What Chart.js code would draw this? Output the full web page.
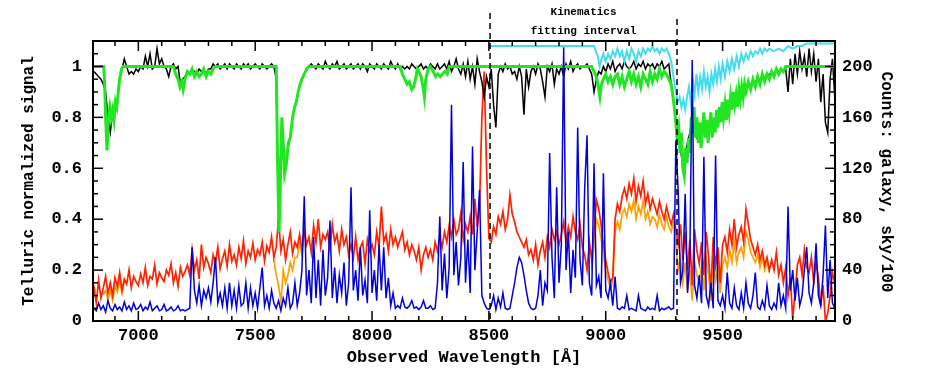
<!DOCTYPE html>
<html>
<head>
<meta charset="utf-8">
<script src="https://cdn.jsdelivr.net/npm/chart.js@4.4.0/dist/chart.umd.min.js"></script>
<style>
  html, body { margin: 0; padding: 0; background: #fff; }
  canvas { display: block; }
</style>
</head>
<body>
<canvas id="spec" width="926" height="378"></canvas>
<script>
// spectra sampled every 10 A from 6810 A
const WL_START = 6810;
const WL_STEP = 10;
const WL_MIN = 6806, WL_MAX = 9981;

// galaxy counts (telluric corrected)
const galaxy = [
  28, 14, 32, 18, 26, 35, 22, 30, 20, 34,
  27, 38, 24, 33, 29, 40, 26, 35, 31, 28,
  37, 30, 42, 28, 35, 33, 44, 29, 38, 34,
  31, 40, 36, 45, 30, 38, 27, 42, 35, 39,
  44, 36, 56, 40, 48, 33, 60, 42, 50, 45,
  38, 52, 46, 58, 41, 49, 55, 43, 60, 47,
  52, 44, 58, 49, 63, 45, 55, 50, 61, 48,
  56, 52, 62, 47, 59, 54, 66, 50, 58, 80,
  55, 64, 48, 60, 70, 53, 62, 58, 68, 56,
  72, 60, 66, 54, 75, 62, 80, 58, 68, 64,
  70, 57, 76, 62, 68, 55, 72, 60, 66, 52,
  60, 50, 66, 48, 58, 62, 45, 64, 55, 60,
  52, 70, 58, 90, 62, 68, 55, 72, 60, 66,
  58, 64, 70, 56, 62, 52, 60, 55, 48, 58,
  40, 52, 58, 50, 56, 48, 62, 55, 66, 58,
  70, 62, 75, 66, 80, 68, 72, 85, 64, 76,
  70, 82, 68, 96, 74, 90, 160, 196, 120, 65,
  62, 74, 68, 82, 76, 86, 72, 80, 99, 84,
  78, 70, 66, 62, 58, 64, 52, 56, 48, 60,
  44, 55, 62, 50, 66, 58, 72, 64, 70, 60,
  68, 78, 62, 74, 66, 82, 70, 64, 76, 58,
  52, 40, 62, 48, 70, 95, 88, 76, 60, 48,
  38, 30, 34, 80, 92, 86, 98, 104, 96, 108,
  100, 112, 94, 106, 98, 110, 92, 100, 88, 96,
  90, 84, 94, 86, 80, 90, 82, 76, 84, 72,
  60, 76, 48, 70, 40, 64, 28, 72, 55, 45,
  62, 36, 70, 50, 24, 66, 44, 58, 30, 60,
  66, 54, 72, 60, 80, 58, 68, 74, 62, 88,
  76, 64, 58, 52, 60, 48, 55, 44, 50, 40,
  48, 40, 54, 36, 44, 30, 42, 20, 34, 2,
  22, 44, 50, 36, 56, 42, 38, 50, 30, 46,
  34, 12, 28, 0, 6, 20, 38, 30
];

// sky counts / 100
const sky = [
  10, 8, 14, 9, 12, 7, 16, 10, 8, 13,
  9, 11, 8, 15, 9, 12, 8, 14, 9, 10,
  13, 8, 11, 9, 15, 8, 10, 12, 8, 9,
  13, 8, 9, 11, 8, 9, 12, 8, 9, 8,
  9, 10, 58, 24, 14, 28, 12, 24, 18, 26,
  15, 30, 50, 14, 22, 12, 26, 10, 30, 12,
  24, 10, 28, 12, 14, 30, 10, 26, 12, 22,
  10, 26, 42, 12, 20, 10, 24, 14, 10, 16,
  8, 18, 12, 26, 10, 14, 30, 12, 22, 40,
  98, 20, 40, 14, 66, 18, 48, 12, 56, 20,
  34, 79, 18, 42, 14, 36, 22, 46, 12, 30,
  105, 24, 40, 16, 58, 20, 32, 14, 87, 22,
  40, 16, 60, 24, 58, 18, 34, 12, 22, 10,
  12, 10, 18, 11, 10, 12, 16, 10, 11, 9,
  11, 16, 10, 10, 12, 9, 10, 30, 82, 24,
  53, 18, 42, 170, 36, 62, 28, 50, 125, 30,
  64, 22, 137, 40, 70, 103, 20, 14, 10, 9,
  12, 20, 9, 18, 11, 22, 10, 9, 10, 20,
  30, 42, 50, 46, 36, 24, 14, 10, 9, 10,
  20, 40, 12, 30, 24, 132, 50, 18, 105, 30,
  60, 215, 40, 70, 22, 56, 34, 152, 48, 28,
  105, 146, 30, 20, 124, 28, 35, 18, 116, 24,
  18, 30, 12, 35, 10, 9, 11, 10, 20, 9,
  10, 9, 8, 20, 10, 9, 8, 11, 9, 10,
  9, 20, 8, 10, 9, 10, 11, 9, 10, 142,
  102, 30, 40, 100, 22, 50, 205, 28, 18, 36,
  14, 129, 20, 12, 30, 10, 130, 16, 12, 20,
  10, 38, 14, 10, 26, 12, 9, 22, 10, 30,
  14, 10, 20, 38, 11, 9, 16, 10, 28, 12,
  9, 14, 10, 30, 12, 20, 10, 90, 24, 40,
  16, 34, 12, 20, 40, 58, 22, 14, 30, 61,
  20, 12, 36, 75, 18, 48, 14, 10
];

// telluric normalized signal (black)
const telluric = [
  0.98, 0.97, 0.96, 0.95, 0.93, 0.9, 0.8, 0.74, 0.82, 0.82,
  0.85, 0.95, 0.99, 1.03, 1.0, 0.97, 0.98, 0.97, 0.99, 0.98,
  1.0, 0.99, 1.04, 1.0, 1.05, 0.99, 1.0, 1.07, 1.01, 1.03,
  1.0, 0.99, 0.96, 1.0, 1.01, 0.99, 1.0, 0.93, 0.95, 0.96,
  0.98, 0.97, 0.99, 0.98, 0.97, 0.99, 0.98, 0.99, 0.97, 0.99,
  0.99, 1.01, 1.0, 1.01, 0.99, 1.0, 1.01, 0.99, 1.01, 1.0,
  0.99, 1.01, 1.0, 0.99, 1.01, 1.0, 1.01, 0.99, 1.0, 1.01,
  1.0, 0.99, 1.01, 1.0, 0.99, 1.0, 1.01, 1.0, 0.95, 0.38,
  0.7, 0.68, 0.6, 0.68, 0.72, 0.8, 0.84, 0.88, 0.92, 0.95,
  0.97, 0.99, 1.0, 1.01, 1.0, 0.99, 1.01, 1.0, 0.99, 1.02,
  1.0, 0.99, 1.01, 1.0, 1.02, 0.99, 1.0, 1.01, 0.99, 1.0,
  1.01, 0.99, 1.0, 1.01, 0.99, 1.01, 1.0, 0.98, 1.01, 1.0,
  0.99, 1.01, 1.0, 0.99, 1.01, 1.0, 0.99, 1.02, 1.0, 0.99,
  1.01, 0.99, 1.0, 0.99, 1.0, 0.99, 1.01, 1.0, 0.99, 1.0,
  1.01, 0.99, 1.0, 0.99, 1.01, 1.0, 0.99, 1.01, 0.99, 1.0,
  1.01, 0.99, 1.02, 0.98, 1.0, 1.03, 0.99, 0.97, 1.01, 0.96,
  1.02, 0.95, 1.0, 0.93, 1.03, 0.98, 0.94, 0.88, 0.96, 0.92,
  0.99, 0.85, 0.76, 0.97, 1.0, 0.98, 1.01, 0.99, 1.0, 0.97,
  0.98, 0.95, 1.0, 0.96, 0.81, 0.99, 0.92, 0.98, 1.0, 0.97,
  1.01, 0.99, 0.94, 0.88, 1.0, 0.98, 1.01, 0.93, 0.99, 0.97,
  1.0, 0.96, 1.01, 0.99, 1.02, 0.98, 1.0, 1.01, 0.99, 1.0,
  1.0, 1.01, 0.99, 0.97, 0.9, 0.95, 0.98, 0.97, 1.0, 0.98,
  1.01, 0.99, 1.02, 0.98, 1.0, 1.01, 0.99, 1.02, 1.0, 0.99,
  1.0, 1.02, 0.99, 1.01, 1.0, 1.02, 0.99, 1.01, 1.0, 1.01,
  0.99, 1.01, 1.0, 1.02, 0.99, 1.0, 1.01, 0.93, 0.87, 0.78,
  0.74, 0.68, 0.6, 0.66, 0.7, 0.74, 0.78, 0.74, 0.72, 0.76,
  0.72, 0.76, 0.74, 0.76, 0.78, 0.76, 0.78, 0.8, 0.8, 0.84,
  0.82, 0.84, 0.86, 0.86, 0.88, 0.88, 0.9, 0.9, 0.92, 0.92,
  0.93, 0.93, 0.94, 0.94, 0.95, 0.95, 0.96, 0.96, 0.96, 0.97,
  0.97, 0.97, 0.98, 0.98, 0.99, 0.98, 0.99, 0.9, 1.03, 0.93,
  1.05, 0.97, 1.06, 0.99, 1.04, 0.96, 1.07, 0.98, 1.05, 0.94,
  1.03, 0.86, 0.97, 0.78, 0.74, 0.95, 1.03, 0.88
];

// telluric model (green), [wavelength, value]
const tellModel = [
  [6806, 1.0], [6852, 1.0], [6856, 0.93], [6860, 0.8], [6866, 0.67], [6872, 0.8], [6878, 0.84],
  [6884, 0.8], [6890, 0.83], [6896, 0.79], [6902, 0.86], [6908, 0.84], [6914, 0.9], [6920, 0.95],
  [6928, 0.99], [6935, 1.0],
  [7150, 1.0], [7160, 0.97], [7170, 0.95], [7178, 0.92], [7186, 0.94], [7192, 0.91], [7200, 0.95],
  [7210, 0.98], [7220, 0.97], [7230, 0.99], [7240, 0.96], [7250, 0.98], [7260, 0.96], [7270, 0.97],
  [7280, 0.99], [7290, 0.96], [7300, 0.98], [7310, 0.97], [7320, 0.99], [7330, 1.0],
  [7590, 1.0], [7596, 0.62], [7602, 0.35], [7608, 0.55], [7614, 0.8], [7620, 0.7], [7626, 0.58],
  [7634, 0.62], [7642, 0.7], [7650, 0.72], [7660, 0.8], [7668, 0.84], [7676, 0.86], [7684, 0.9],
  [7692, 0.93], [7700, 0.95], [7710, 0.97], [7720, 0.99], [7730, 1.0],
  [8120, 1.0], [8130, 0.97], [8140, 0.95], [8150, 0.93], [8160, 0.94], [8170, 0.91], [8178, 0.92],
  [8186, 0.95], [8194, 0.99], [8200, 0.98], [8210, 0.96], [8218, 0.92], [8224, 0.88], [8230, 0.95],
  [8240, 0.99], [8250, 1.0], [8262, 0.98], [8272, 0.96], [8282, 0.97], [8292, 0.96], [8302, 0.97],
  [8312, 0.98], [8322, 0.97], [8330, 1.0],
  [8940, 1.0], [8950, 0.98], [8960, 0.96], [8968, 0.92], [8975, 0.88], [8982, 0.93], [8990, 0.95],
  [9000, 0.97], [9010, 0.94], [9020, 0.96], [9030, 0.93], [9040, 0.96],
  [9050, 0.97], [9060, 0.93], [9070, 0.96], [9080, 0.92], [9090, 0.95], [9100, 0.98], [9110, 0.94],
  [9120, 0.97], [9130, 0.93], [9140, 0.96], [9150, 0.92], [9160, 0.97], [9170, 0.95], [9180, 0.93],
  [9190, 0.98], [9200, 0.94], [9210, 0.97], [9220, 0.95], [9230, 0.99], [9240, 0.96], [9250, 0.98],
  [9260, 0.97], [9270, 0.95], [9280, 0.93],
  [9285, 0.9], [9292, 0.85], [9298, 0.8], [9305, 0.72], [9312, 0.76], [9318, 0.66], [9324, 0.74],
  [9330, 0.6], [9336, 0.57], [9342, 0.68], [9348, 0.62], [9354, 0.72], [9360, 0.66], [9366, 0.8],
  [9372, 0.74], [9378, 0.84], [9384, 0.72], [9390, 0.8], [9396, 0.7], [9402, 0.78], [9408, 0.68],
  [9414, 0.76], [9420, 0.82], [9426, 0.72], [9432, 0.79], [9438, 0.7], [9444, 0.77], [9450, 0.82],
  [9456, 0.72], [9462, 0.8], [9468, 0.74], [9474, 0.83], [9480, 0.76], [9486, 0.84], [9492, 0.78],
  [9498, 0.86], [9504, 0.8], [9510, 0.85], [9516, 0.79], [9522, 0.87], [9528, 0.82], [9534, 0.88],
  [9540, 0.83], [9546, 0.9], [9552, 0.85], [9558, 0.89], [9564, 0.84], [9570, 0.91], [9576, 0.87],
  [9582, 0.92], [9588, 0.88], [9594, 0.93], [9600, 0.9], [9610, 0.94], [9620, 0.91], [9630, 0.95],
  [9640, 0.92], [9650, 0.96], [9660, 0.93], [9670, 0.97], [9680, 0.94], [9690, 0.97], [9700, 0.95],
  [9710, 0.98], [9720, 0.96], [9730, 0.99], [9740, 0.97], [9750, 0.99], [9760, 0.98], [9770, 1.0],
  [9981, 1.0]
];

// corrected telluric signal inside the fit interval (cyan)
const tellFit = [
  [8505, 1.08], [8950, 1.08], [8958, 1.06], [8966, 1.04], [8974, 1.0], [8982, 1.03], [8990, 1.05],
  [9000, 1.02], [9010, 1.05], [9020, 1.03], [9030, 1.06], [9040, 1.04], [9050, 1.07], [9060, 1.04],
  [9070, 1.06], [9080, 1.02], [9090, 1.06], [9100, 1.03], [9110, 1.07], [9120, 1.05], [9130, 1.02],
  [9140, 1.06], [9150, 1.04], [9160, 1.07], [9170, 1.05], [9180, 1.07], [9190, 1.06], [9200, 1.08],
  [9210, 1.06], [9220, 1.07], [9230, 1.05], [9240, 1.07], [9250, 1.06], [9260, 1.07], [9270, 1.05],
  [9280, 1.02], [9290, 0.96], [9300, 0.9], [9308, 0.86], [9316, 0.88], [9324, 0.84], [9332, 0.87],
  [9340, 0.83], [9348, 0.88], [9356, 0.92], [9364, 0.86], [9372, 0.95], [9380, 0.89], [9388, 0.97],
  [9396, 0.9], [9404, 0.96], [9412, 0.91], [9420, 0.98], [9428, 0.92], [9436, 0.96], [9444, 0.9],
  [9452, 0.97], [9460, 0.93], [9468, 0.99], [9476, 0.94], [9484, 1.0], [9492, 0.95], [9500, 1.01],
  [9510, 0.96], [9520, 1.02], [9530, 0.98], [9540, 1.03], [9550, 0.99], [9560, 1.04], [9570, 1.0],
  [9580, 1.05], [9590, 1.02], [9600, 1.05], [9610, 1.03], [9620, 1.06], [9630, 1.04], [9640, 1.06],
  [9650, 1.05], [9660, 1.07], [9670, 1.05], [9680, 1.07], [9690, 1.06], [9700, 1.07], [9720, 1.06],
  [9740, 1.07], [9760, 1.06], [9780, 1.08], [9800, 1.07], [9820, 1.08], [9840, 1.08], [9860, 1.09],
  [9981, 1.09]
];

// uncorrected galaxy counts, only where it shows below the red (orange)
const rawA = [21, 24, 17, 24, 16, 27, 23, 32, 22, 32];            // from 6850
const rawB = [48, 36, 28, 15, 40, 30, 36, 46, 40, 50, 50, 62, 52, 70, 60]; // from 7580
const rawC = [                                                       // from 8940
  40, 60, 80, 75, 65, 52, 40,
  32, 26, 30, 70, 78, 72, 84, 88, 82, 92,
  86, 95, 80, 90, 84, 94, 80, 86, 76, 82,
  80, 74, 84, 76, 72, 82, 74, 70, 78, 60,
  40, 50, 30, 46, 24, 40, 16, 46, 36, 30,
  44, 24, 50, 36, 16, 48, 32, 42, 22, 44,
  50, 42, 56, 46, 62, 46, 54, 58, 50, 70,
  64, 54, 50, 46, 52, 42, 50, 40, 46, 38
];

const xTicks = [7000, 7500, 8000, 8500, 9000, 9500];
const yTicks = [0, 0.2, 0.4, 0.6, 0.8, 1];
const yTickLabels = ['0', '0.2', '0.4', '0.6', '0.8', '1'];
const y2Ticks = [0, 40, 80, 120, 160, 200];
const fitInterval = [8505, 9305];

const grid = (arr, start) => arr.map((v, i) => ({ x: start + i * WL_STEP, y: v }));
const pairs = arr => arr.map(p => ({ x: p[0], y: p[1] }));
const rawData = [...grid(rawA, 6850), { x: 6945, y: null },
                 ...grid(rawB, 7580), { x: 7725, y: null },
                 ...grid(rawC, 8940)];

const line = (data, color, width, axis) => ({
  data, borderColor: color, borderWidth: width, yAxisID: axis,
  pointRadius: 0, tension: 0, fill: false, spanGaps: false
});

const FONT = '"Liberation Mono", "DejaVu Sans Mono", monospace';

const axesPlugin = {
  id: 'pgAxes',
  afterDraw(chart) {
    const { ctx, chartArea: a, scales } = chart;
    const xs = scales.x, ys = scales.y, ys2 = scales.y2;
    ctx.save();
    ctx.strokeStyle = '#000';
    ctx.fillStyle = '#000';

    // dashed fit interval markers
    ctx.lineWidth = 1.5;
    ctx.setLineDash([6, 4]);
    [[fitInterval[0], 13], [fitInterval[1], 19]].forEach(([w, top]) => {
      const px = xs.getPixelForValue(w);
      ctx.beginPath(); ctx.moveTo(px, top); ctx.lineTo(px, a.bottom); ctx.stroke();
    });
    ctx.setLineDash([]);

    // frame
    ctx.lineWidth = 2;
    ctx.strokeRect(a.left, a.top, a.right - a.left, a.bottom - a.top);

    // x ticks every 100 A, both edges
    ctx.lineWidth = 1.5;
    for (let w = 6900; w < WL_MAX; w += 100) {
      const px = xs.getPixelForValue(w);
      const len = w % 500 === 0 ? 10 : 5;
      ctx.beginPath();
      ctx.moveTo(px, a.bottom); ctx.lineTo(px, a.bottom - len);
      ctx.moveTo(px, a.top); ctx.lineTo(px, a.top + len);
      ctx.stroke();
    }
    // left ticks every 0.05
    for (let i = 1; i <= 21; i++) {
      const py = ys.getPixelForValue(i * 0.05);
      const len = i % 4 === 0 ? 10 : 5;
      ctx.beginPath(); ctx.moveTo(a.left, py); ctx.lineTo(a.left + len, py); ctx.stroke();
    }
    // right ticks every 10 counts
    for (let c = 10; c <= 210; c += 10) {
      const py = ys2.getPixelForValue(c);
      const len = c % 40 === 0 ? 10 : 5;
      ctx.beginPath(); ctx.moveTo(a.right, py); ctx.lineTo(a.right - len, py); ctx.stroke();
    }

    // tick labels
    ctx.font = 'bold 17px ' + FONT;
    ctx.textBaseline = 'middle';
    ctx.textAlign = 'center';
    xTicks.forEach(w => ctx.fillText(String(w), xs.getPixelForValue(w), 336));
    ctx.textAlign = 'right';
    yTicks.forEach((v, i) => ctx.fillText(yTickLabels[i], 82, ys.getPixelForValue(v)));
    ctx.textAlign = 'left';
    y2Ticks.forEach(c => ctx.fillText(String(c), 842, ys2.getPixelForValue(c)));

    // axis titles
    ctx.font = 'bold 17px ' + FONT;
    ctx.textAlign = 'center';
    ctx.fillText('Observed Wavelength [Å]', 464, 358);
    ctx.save();
    ctx.translate(29, 181);
    ctx.rotate(-Math.PI / 2);
    ctx.font = 'bold 16px ' + FONT;
    ctx.fillText('Telluric normalized signal', 0, 0);
    ctx.restore();
    ctx.save();
    ctx.translate(886, 182);
    ctx.rotate(Math.PI / 2);
    ctx.font = 'bold 16px ' + FONT;
    ctx.fillText('Counts: galaxy, sky/100', 0, 0);
    ctx.restore();

    // fit interval note
    ctx.font = 'bold 11px ' + FONT;
    const mid = (xs.getPixelForValue(fitInterval[0]) + xs.getPixelForValue(fitInterval[1])) / 2;
    ctx.fillText('Kinematics', mid, 12);
    ctx.fillText('fitting interval', mid, 31);
    ctx.restore();
  }
};

new Chart(document.getElementById('spec'), {
  type: 'line',
  data: {
    datasets: [
      line(grid(sky, WL_START), '#0000dd', 1.5, 'y2'),
      line(pairs(tellFit), '#44ddf0', 2, 'y'),
      line(pairs(tellModel), '#22e622', 3, 'y'),
      line(grid(telluric, WL_START), '#000000', 1.5, 'y'),
      line(grid(galaxy, WL_START), '#ff2200', 1.7, 'y2'),
      line(rawData, '#ffa000', 1.7, 'y2')
    ]
  },
  options: {
    responsive: false,
    animation: false,
    parsing: false,
    normalized: true,
    layout: { padding: { left: 93, top: 41, right: 91, bottom: 57 } },
    plugins: { legend: { display: false }, tooltip: { enabled: false } },
    scales: {
      x: { type: 'linear', min: WL_MIN, max: WL_MAX, display: false },
      y: { type: 'linear', min: 0, max: 1.1, display: false },
      y2: { type: 'linear', position: 'right', min: 0, max: 220, display: false }
    }
  },
  plugins: [axesPlugin]
});
</script>
</body>
</html>
